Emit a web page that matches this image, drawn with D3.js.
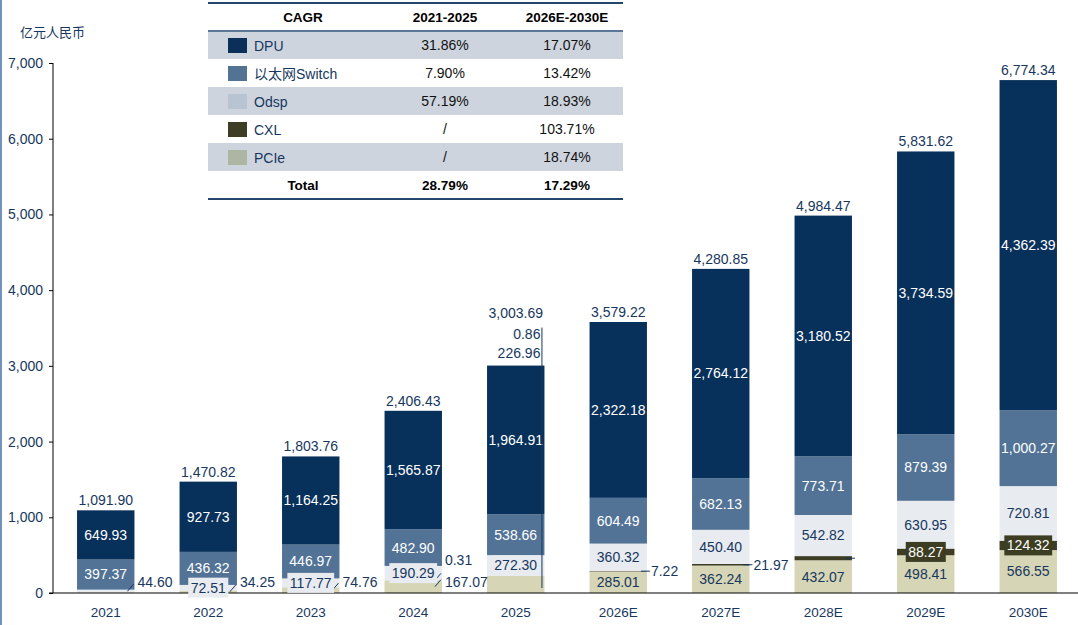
<!DOCTYPE html>
<html lang="zh">
<head>
    <meta charset="UTF-8">
    <title>DPU / Switch / Odsp / CXL / PCIe</title>
    <style>
        body { margin: 0; background: #fff; }
        svg { display: block; font-family: "Liberation Sans", Arial, "Noto Sans CJK SC", sans-serif; }
        .axis path, .axis line { stroke: #000; }
        .axis text { fill: #17375e; font-size: 14px; }
    </style>
    <script src="https://d3js.org/d3.v7.min.js"></script>
</head>
<body>
<svg id="chart" width="1078" height="625"></svg>
<script>
// data (亿元人民币)
const years = ["2021", "2022", "2023", "2024", "2025", "2026E", "2027E", "2028E", "2029E", "2030E"];
const dpu = [649.93, 927.73, 1164.25, 1565.87, 1964.91, 2322.18, 2764.12, 3180.52, 3734.59, 4362.39];
const ethSwitch = [397.37, 436.32, 446.97, 482.90, 538.66, 604.49, 682.13, 773.71, 879.39, 1000.27];
const odsp = [44.60, 72.51, 117.77, 190.29, 272.30, 360.32, 450.40, 542.82, 630.95, 720.81];
const cxl = [0, 0, 0, 0.31, 0.86, 7.22, 21.97, 55.35, 88.27, 124.32];
const pcie = [0, 34.25, 74.76, 167.07, 226.96, 285.01, 362.24, 432.07, 498.41, 566.55];
const totals = [1091.90, 1470.82, 1803.76, 2406.43, 3003.69, 3579.22, 4280.85, 4984.47, 5831.62, 6774.34];

// CAGR table
const cagrNames = ["DPU", "以太网Switch", "Odsp", "CXL", "PCIe"];
const cagr2125 = ["31.86%", "7.90%", "57.19%", "/", "/"];
const cagr2630 = ["17.07%", "13.42%", "18.93%", "103.71%", "18.74%"];
const cagrTotal = ["28.79%", "17.29%"];

const yTicks = [0, 1000, 2000, 3000, 4000, 5000, 6000, 7000];

const dark = "#17375e";
const series = [
    { key: "pcie", values: pcie, color: "#d6d5b5", text: dark },
    { key: "cxl", values: cxl, color: "#3d3d24", text: "#fff" },
    { key: "odsp", values: odsp, color: "#e8ebf0", text: dark },
    { key: "sw", values: ethSwitch, color: "#527396", text: "#fff" },
    { key: "dpu", values: dpu, color: "#07305a", text: "#fff" }
];
const legendColors = ["#0a3059", "#537394", "#b8c4d2", "#3d3d26", "#adb5a3"];

// how each small segment gets its label
const place = {
    pcie: [null, "slash", "slash", "slash", "top", "in", "in", "in", "in", "in"],
    cxl: [null, null, null, "slash", "top", "side", "side", "lead", "box", "box"],
    odsp: ["slash", "box", "box", "box", "box", "box", "box", "box", "box", "box"]
};

const svg = d3.select("#chart");
const fmt = d3.format(",.2f");

const x = d3.scaleBand().domain(years).range([54.5, 1079.5]).paddingInner(0.44).paddingOuter(0.22);
const y = d3.scaleLinear().domain([0, 7000]).range([593, 63]);

// left page border
svg.append("line").attr("x1", 1).attr("x2", 1).attr("y1", 0).attr("y2", 625)
    .attr("stroke", "#7393bd").attr("stroke-width", 2);

svg.append("text").attr("x", 20).attr("y", 37).attr("fill", dark)
    .attr("font-size", 13).text("亿元人民币");

// bars
const g = svg.append("g");
years.forEach((yr, i) => {
    let base = 0;
    series.forEach(s => {
        const v = s.values[i];
        if (v > 0) {
            g.append("rect")
                .attr("x", x(yr)).attr("width", x.bandwidth())
                .attr("y", y(base + v)).attr("height", y(base) - y(base + v))
                .attr("fill", s.color);
        }
        s.stack = s.stack || [];
        s.stack[i] = [base, base + v];
        base += v;
    });
});

// axes
svg.append("g").attr("class", "axis").attr("transform", "translate(53,0)")
    .call(d3.axisLeft(y).tickValues(yTicks).tickSize(4).tickPadding(6).tickFormat(d3.format(",")))
    .call(a => a.select(".domain").attr("d", "M0," + y(7000) + "V" + y(0)));
svg.append("line").attr("x1", 49).attr("x2", 1078).attr("y1", y(0)).attr("y2", y(0)).attr("stroke", "#000");

svg.append("g").selectAll("text").data(years).join("text")
    .attr("x", d => x(d) + x.bandwidth() / 2).attr("y", 617)
    .attr("text-anchor", "middle").attr("fill", dark).attr("font-size", 13.5)
    .text(d => d);

// segment labels
const lab = svg.append("g").attr("font-size", 14);
years.forEach((yr, i) => {
    const cx = x(yr) + x.bandwidth() / 2;
    const right = x(yr) + x.bandwidth();
    const top = y(totals[i]);
    let nSlash = 0, nTop = 0;
    series.forEach(s => {
        const v = s.values[i];
        if (!(v > 0)) return;
        const [b0, b1] = s.stack[i];
        const mid = (y(b0) + y(b1)) / 2;
        const mode = place[s.key] ? place[s.key][i] : "in";
        if (mode === "in" || mode === "box") {
            const t = lab.append("text").attr("x", cx).attr("y", mid).attr("dy", "0.35em")
                .attr("text-anchor", "middle").attr("fill", s.text).text(fmt(v));
            if (mode === "box") {
                const w = t.node().getComputedTextLength() + 5;
                lab.insert("rect", () => t.node())
                    .attr("x", cx - w / 2).attr("y", mid - 10).attr("width", w).attr("height", 20)
                    .attr("fill", s.color);
            }
        } else if (mode === "slash") {
            const ty = y(0) - 11 - 22 * nSlash;
            lab.append("line").attr("x1", right - 7).attr("y1", mid).attr("x2", right - 1).attr("y2", mid - 7)
                .attr("stroke", dark);
            lab.append("text").attr("x", right + 3).attr("y", ty).attr("dy", "0.35em")
                .attr("fill", dark).text(fmt(v));
            nSlash++;
        } else if (mode === "top") {
            const ty = top - 12.5 - 19 * nTop;
            lab.append("text").attr("x", right - 4).attr("y", ty).attr("dy", "0.35em")
                .attr("text-anchor", "end").attr("fill", dark).text(fmt(v));
            nTop++;
        } else if (mode === "side" || mode === "lead") {
            lab.append("line").attr("x1", right - 6).attr("x2", right + 3).attr("y1", mid).attr("y2", mid)
                .attr("stroke", dark);
            if (mode === "side") {
                lab.append("text").attr("x", right + 4).attr("y", mid).attr("dy", "0.35em")
                    .attr("fill", dark).text(fmt(v));
            }
        }
    });
    if (nTop > 0) {
        lab.append("line").attr("x1", right - 2.5).attr("x2", right - 2.5)
            .attr("y1", top - 38).attr("y2", y(0) - 5).attr("stroke", dark);
    }
    lab.append("text").attr("x", cx).attr("y", top - 10 - 21 * nTop).attr("dy", "0.35em")
        .attr("text-anchor", "middle").attr("fill", dark).text(fmt(totals[i]));
});

// CAGR table
const tb = svg.append("g").attr("font-size", 14);
const tL = 208, tR = 623, rowH = 28, tTop = 3;
const col = [303, 445, 567];
cagrNames.forEach((n, i) => {
    const ry = tTop + rowH * (i + 1);
    if (i % 2 === 0) {
        tb.append("rect").attr("x", tL).attr("y", ry).attr("width", tR - tL).attr("height", rowH).attr("fill", "#cdd4de");
    }
    tb.append("rect").attr("x", 228).attr("y", ry + 7).attr("width", 19).attr("height", 15).attr("fill", legendColors[i]);
    tb.append("text").attr("x", 254).attr("y", ry + rowH / 2 + 1).attr("dy", "0.35em").attr("fill", dark).text(n);
    tb.append("text").attr("x", col[1]).attr("y", ry + rowH / 2).attr("dy", "0.35em")
        .attr("text-anchor", "middle").attr("fill", "#111").text(cagr2125[i]);
    tb.append("text").attr("x", col[2]).attr("y", ry + rowH / 2).attr("dy", "0.35em")
        .attr("text-anchor", "middle").attr("fill", "#111").text(cagr2630[i]);
});
const head = ["CAGR", "2021-2025", "2026E-2030E"];
head.forEach((h, j) => {
    tb.append("text").attr("x", col[j]).attr("y", tTop + rowH / 2).attr("dy", "0.35em")
        .attr("text-anchor", "middle").attr("font-weight", "bold").attr("font-size", 13.5).attr("fill", "#000").text(h);
});
const totRow = ["Total"].concat(cagrTotal);
totRow.forEach((h, j) => {
    tb.append("text").attr("x", col[j]).attr("y", tTop + rowH * 6 + rowH / 2).attr("dy", "0.35em")
        .attr("text-anchor", "middle").attr("font-weight", "bold").attr("font-size", 13.5).attr("fill", "#000").text(h);
});
tb.append("line").attr("x1", tL).attr("x2", tR).attr("y1", tTop).attr("y2", tTop).attr("stroke", "#24466d").attr("stroke-width", 2);
tb.append("line").attr("x1", tL).attr("x2", tR).attr("y1", tTop + rowH).attr("y2", tTop + rowH).attr("stroke", "#5a7896").attr("stroke-width", 2);
tb.append("line").attr("x1", tL).attr("x2", tR).attr("y1", tTop + rowH * 7).attr("y2", tTop + rowH * 7).attr("stroke", "#24466d").attr("stroke-width", 2);
</script>
</body>
</html>
